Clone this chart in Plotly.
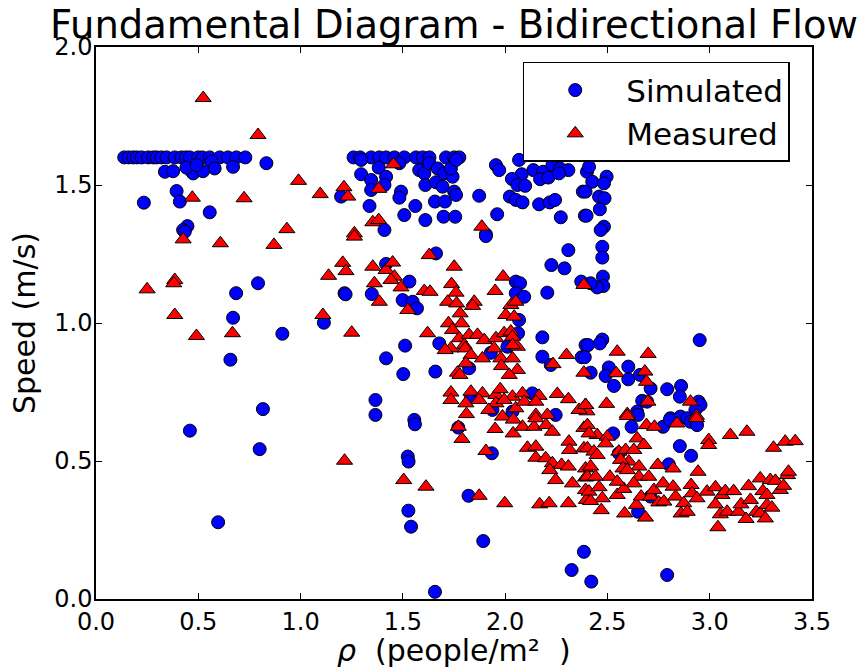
import plotly.graph_objects as go

# ---- Simulated (blue circles) ----
sim_x = [0.138, 0.16, 0.182, 0.20, 0.223, 0.255, 0.28, 0.296, 0.32, 0.345, 0.385, 0.418, 0.44, 0.459, 0.499, 0.52, 0.556, 0.605, 0.645, 0.686, 0.730,
         0.564, 0.67, 0.58, 0.337, 0.377, 0.467, 0.475, 0.523, 0.442, 0.491, 0.833, 0.394, 0.41, 0.234, 0.556, 0.447, 0.426, 0.434,
         1.198, 1.114, 0.792, 0.685, 0.67, 0.911, 0.657, 0.816, 1.215, 0.459, 0.8, 0.597,
         1.259, 1.291, 1.345, 1.385, 1.418, 1.459, 1.507, 1.564, 1.597, 1.63, 1.711, 1.751, 1.776,
         1.296, 1.296, 1.345, 1.345, 1.337, 1.382, 1.418, 1.41, 1.483, 1.491, 1.483, 1.561, 1.507, 1.61, 1.58, 1.605, 1.629, 1.67, 1.702, 1.743, 1.735, 1.76, 1.61, 1.662, 1.694, 1.657, 1.706, 1.751, 1.76, 1.699, 1.756, 1.41,
         1.955, 1.971, 2.068, 2.138, 2.185, 2.231, 2.268, 2.309, 2.4, 2.171, 2.211, 2.263, 2.081, 2.033, 2.06, 2.098, 2.023, 2.052, 2.085, 2.166, 2.218, 2.244, 2.272, 2.38, 2.39, 1.873, 1.961, 1.906,
         2.41, 2.426, 2.496, 2.483, 2.393, 2.459, 2.486, 2.463, 2.398, 2.483, 2.467, 2.475, 2.475, 2.478, 2.48, 2.45, 2.418,
         1.906, 1.662, 2.309, 2.226, 2.29, 1.418, 1.532, 1.22, 1.348, 1.499, 1.548, 1.569, 2.052, 2.073, 2.052, 2.093, 2.206, 2.372, 2.068, 2.063, 2.182, 2.393, 1.678, 1.511, 1.418, 1.502, 1.659, 1.824, 1.93, 2.011, 2.182, 2.223, 2.374, 1.366, 1.366, 2.133, 1.833, 1.938, 2.036, 2.247, 1.556,
         2.475, 2.463, 2.405, 2.389, 2.418, 2.507, 2.491, 2.532, 2.602, 2.602, 2.659, 2.711, 2.792, 2.86, 2.854, 2.67, 2.694, 2.645, 2.946, 2.955, 2.93, 2.951, 2.808, 2.857, 2.89,
         1.559, 1.771, 1.935, 1.524, 1.528, 1.821, 1.527, 1.54, 1.893, 1.657, 2.385, 2.325, 2.421, 2.528, 2.618, 2.649, 2.772, 2.805, 2.906, 2.938, 2.854, 2.909, 2.8, 2.556, 2.65, 2.711, 2.792]
sim_y = [1.60] * 21 + \
        [1.585, 1.566, 1.56, 1.548, 1.55, 1.55, 1.542, 1.55, 1.563, 1.572, 1.579, 1.478, 1.44, 1.436, 1.401, 1.351, 1.337, 1.331,
         1.458, 1.001, 1.144, 1.108, 1.019, 0.961, 0.867, 0.688, 1.108, 0.61, 0.543, 0.278] + \
        [1.60] * 13 + \
        [1.591, 1.539, 1.518, 1.482, 1.424, 1.563, 1.53, 1.5, 1.579, 1.476, 1.454, 1.424, 1.391, 1.373, 1.554, 1.542, 1.579, 1.56, 1.542, 1.53, 1.56, 1.591, 1.5, 1.51, 1.494, 1.44, 1.44, 1.476, 1.464, 1.385, 1.385, 1.337,
         1.572, 1.554, 1.591, 1.554, 1.548, 1.572, 1.56, 1.554, 1.548, 1.521, 1.527, 1.542, 1.539, 1.522, 1.5, 1.497, 1.458, 1.446, 1.437, 1.43, 1.437, 1.446, 1.383, 1.476, 1.389, 1.461, 1.394, 1.321,
         1.566, 1.512, 1.53, 1.506, 1.476, 1.458, 1.452, 1.412, 1.389, 1.349, 1.337, 1.276, 1.237, 1.168, 1.134, 1.129, 1.144,
         1.315, 1.252, 1.264, 1.21, 1.198, 1.214, 1.15, 1.104, 1.105, 1.083, 1.077, 1.053, 1.15, 1.144, 1.108, 1.095, 1.11, 1.15, 1.011, 0.963, 0.948, 0.92, 0.926, 0.918, 0.872, 0.815, 0.824, 0.836, 0.892, 0.914, 0.878, 0.848, 0.876, 0.721, 0.667, 0.745, 0.733, 0.685, 0.679, 0.667, 0.649,
         0.94, 0.926, 0.92, 0.876, 0.82, 0.839, 0.808, 0.772, 0.842, 0.796, 0.812, 0.763, 0.76, 0.772, 0.733, 0.718, 0.715, 0.679, 0.715, 0.703, 0.685, 0.938, 0.655, 0.661, 0.655,
         0.633, 0.621, 0.528, 0.516, 0.498, 0.374, 0.32, 0.262, 0.21, 0.026, 0.171, 0.105, 0.063, 0.6, 0.624, 0.667, 0.624, 0.649, 0.642, 0.63, 0.554, 0.519, 0.488, 0.528, 0.316, 0.371, 0.087]

# ---- Measured (red triangles) ----
meas_x = [0.524, 0.792, 0.99, 1.096, 1.212, 0.471, 0.724, 0.933, 0.426, 0.608, 0.87, 1.206, 1.222, 1.137, 0.385, 0.38, 0.25, 0.385, 0.491, 0.667, 1.109, 1.215,
          1.454, 1.382, 1.231, 1.353, 1.382, 1.263, 1.886,
          2.548, 2.699, 2.543, 2.683, 2.691, 2.698, 2.906, 2.496, 2.393, 2.4, 2.597, 2.935, 2.385,
          1.263, 1.629, 1.418, 1.353, 1.45, 1.459, 1.361, 1.442, 1.491, 1.385, 1.524, 1.605, 1.633, 1.751, 1.738, 1.76, 1.719, 1.763, 1.849, 1.841, 1.99, 1.951, 2.028, 2.052, 2.003, 2.044,
          1.78, 1.723, 1.787, 1.743, 1.621, 1.25, 1.776, 1.824, 1.865, 1.898, 1.955, 1.995, 2.028, 2.036, 2.06, 2.036, 1.735, 1.707, 1.8, 1.805, 1.833, 1.946, 1.889, 1.979, 2.036, 1.808, 1.982, 2.06, 2.02, 1.767, 1.779,
          2.3, 2.234, 2.385, 1.735, 1.735, 1.833, 1.889, 1.955, 1.976, 2.036, 2.085, 2.166, 2.255, 2.309, 1.808, 1.873, 1.955, 1.995, 2.052, 2.093, 2.15, 2.361, 2.393, 1.811, 1.92, 1.987, 2.15, 2.206,
          1.771, 1.789, 1.951, 2.039, 2.085, 2.141, 2.15, 2.2, 2.231, 2.04, 1.906, 2.109, 2.15, 2.15, 2.198, 2.231, 2.276, 2.309, 2.218, 2.312, 2.315, 2.247, 2.329, 2.385, 2.385, 2.393, 2.393, 2.393, 2.397,
          1.504, 1.613, 1.873, 1.998, 2.169, 2.215, 2.309,
          2.597, 2.691, 2.73, 2.84, 2.935, 3.101, 3.182, 2.995, 2.995, 3.312, 3.369, 3.418, 2.402, 2.45, 2.499, 2.491, 2.402, 2.434, 2.45, 2.645, 2.678, 2.556, 2.589, 2.629, 2.605, 2.654, 2.564, 2.576, 2.597, 2.654,
          2.746, 2.821, 2.943, 2.418, 2.402, 2.442, 2.512, 2.629, 2.702, 2.41, 2.459, 2.475, 2.418, 2.47, 2.548, 2.58, 2.584, 2.642, 2.686, 2.665, 2.711, 2.727, 2.751, 2.772, 2.776, 2.821, 2.833, 2.873, 2.86, 2.89,
          2.909, 2.914, 2.938, 2.987, 3.028, 3.06, 3.076, 3.117, 3.028, 3.052, 3.04, 3.085, 3.141, 3.153, 3.19, 3.199, 3.178, 3.228, 3.247, 3.26, 3.28, 3.247, 3.272, 3.28, 3.304, 3.296, 3.321, 3.345, 3.361, 3.38, 3.385, 2.548, 2.41]
meas_y = [1.815, 1.681, 1.515, 1.467, 1.492, 1.454, 1.452, 1.34, 1.303, 1.289, 1.283, 1.218, 1.188, 1.171, 1.156, 1.144, 1.122, 1.029, 0.953, 0.963, 1.029, 0.501,
          1.575, 1.486, 1.458, 1.365, 1.373, 1.325, 1.349,
          0.896, 0.888, 0.818, 0.824, 0.787, 0.715, 0.715, 0.707, 0.703, 0.68, 0.67, 0.664, 1.138,
          1.313, 1.246, 1.192, 1.204, 1.219, 1.168, 1.144, 1.156, 1.129, 1.077, 1.047, 1.116, 1.113, 1.204, 1.141, 1.11, 1.077, 1.071, 1.077, 1.062, 1.168, 1.116, 1.065, 1.077, 1.029, 1.023,
          1.035, 0.999, 0.999, 0.975, 0.963, 0.965, 0.945, 0.957, 0.957, 0.938, 0.945, 0.963, 0.969, 0.95, 0.914, 0.92, 0.908, 0.902, 0.92, 0.908, 0.884, 0.908, 0.872, 0.872, 0.872, 0.854, 0.844, 0.83, 0.812, 0.82, 0.812,
          0.884, 0.851, 0.82, 0.748, 0.721, 0.751, 0.745, 0.739, 0.76, 0.733, 0.745, 0.736, 0.743, 0.724, 0.709, 0.721, 0.709, 0.721, 0.691, 0.715, 0.715, 0.685, 0.703, 0.67, 0.685, 0.661, 0.667, 0.667,
          0.624, 0.58, 0.616, 0.6, 0.624, 0.624, 0.655, 0.63, 0.606, 0.65, 0.536, 0.548, 0.552, 0.512, 0.51, 0.492, 0.486, 0.48, 0.467, 0.57, 0.54, 0.431, 0.419, 0.546, 0.62, 0.473, 0.44, 0.395, 0.359,
          0.431, 0.407, 0.374, 0.347, 0.343, 0.347, 0.347,
          0.663, 0.63, 0.624, 0.636, 0.655, 0.594, 0.606, 0.576, 0.558, 0.548, 0.57, 0.572, 0.63, 0.594, 0.588, 0.564, 0.546, 0.534, 0.522, 0.582, 0.558, 0.534, 0.54, 0.54, 0.498, 0.48, 0.504, 0.473, 0.467, 0.443,
          0.486, 0.473, 0.461, 0.48, 0.443, 0.443, 0.443, 0.419, 0.443, 0.389, 0.405, 0.365, 0.355, 0.322, 0.377, 0.399, 0.31, 0.341, 0.295, 0.371, 0.371, 0.395, 0.35, 0.419, 0.353, 0.407, 0.371, 0.347, 0.31, 0.316,
          0.413, 0.383, 0.365, 0.389, 0.405, 0.377, 0.391, 0.391, 0.343, 0.307, 0.26, 0.316, 0.316, 0.343, 0.409, 0.359, 0.29, 0.316, 0.437, 0.391, 0.377, 0.31, 0.292, 0.341, 0.331, 0.431, 0.428, 0.395, 0.41, 0.449, 0.461, 0.425, 0.6]

x_ticks = [0.0, 0.5, 1.0, 1.5, 2.0, 2.5, 3.0, 3.5]
y_ticks = [0.0, 0.5, 1.0, 1.5, 2.0]

FONT = "DejaVu Sans"
NB = "\u00a0"
X_LABEL = f"<i>ρ</i>{NB}{NB}(people/m²{NB}{NB})"

fig = go.Figure()
fig.add_trace(go.Scatter(
    x=sim_x, y=sim_y, mode="markers", name="Simulated",
    marker=dict(symbol="circle", size=13, color="#0000ff",
                line=dict(color="black", width=1)),
))
fig.add_trace(go.Scatter(
    x=meas_x, y=meas_y, mode="markers", name="Measured",
    marker=dict(symbol="triangle-up", size=14, color="#ff0000",
                line=dict(color="black", width=1)),
))

axis_common = dict(
    showgrid=False, zeroline=False, showline=True, linecolor="black", linewidth=1.5,
    mirror="ticks", ticks="inside", ticklen=6, tickwidth=1, tickcolor="black",
    tickfont=dict(family=FONT, size=24, color="black"), automargin=False,
)

fig.update_layout(
    width=862, height=671, autosize=False,
    paper_bgcolor="white", plot_bgcolor="white",
    margin=dict(l=96, r=50, t=47, b=72),
    font=dict(family=FONT, color="black"),
    title=dict(text="Fundamental Diagram - Bidirectional Flow",
               font=dict(family=FONT, size=38.5, color="black"),
               x=0.5, xref="paper", xanchor="center",
               y=1 - 25 / 671, yref="container", yanchor="middle"),
    xaxis=dict(range=[0, 3.5], tickvals=x_ticks, ticktext=[f"{v:.1f}" for v in x_ticks],
               **axis_common),
    yaxis=dict(range=[0, 2.0], tickvals=y_ticks, ticktext=[f"{v:.1f}" for v in y_ticks],
               ticklabelstandoff=-3,
               title=dict(text="Speed (m/s)",
                          font=dict(family=FONT, size=30, color="black"), standoff=10),
               **axis_common),
    showlegend=True,
    legend=dict(x=0.596, y=0.973, xanchor="left", yanchor="top",
                bgcolor="white", bordercolor="black", borderwidth=1.5,
                font=dict(family=FONT, size=31, color="black"),
                itemwidth=92, tracegroupgap=0),
    annotations=[dict(text=X_LABEL, xref="paper", yref="paper", x=0.5, y=-51 / 552,
                      xanchor="center", yanchor="middle", showarrow=False,
                      font=dict(family=FONT, size=30, color="black"))],
)

fig.write_html("out.html")
